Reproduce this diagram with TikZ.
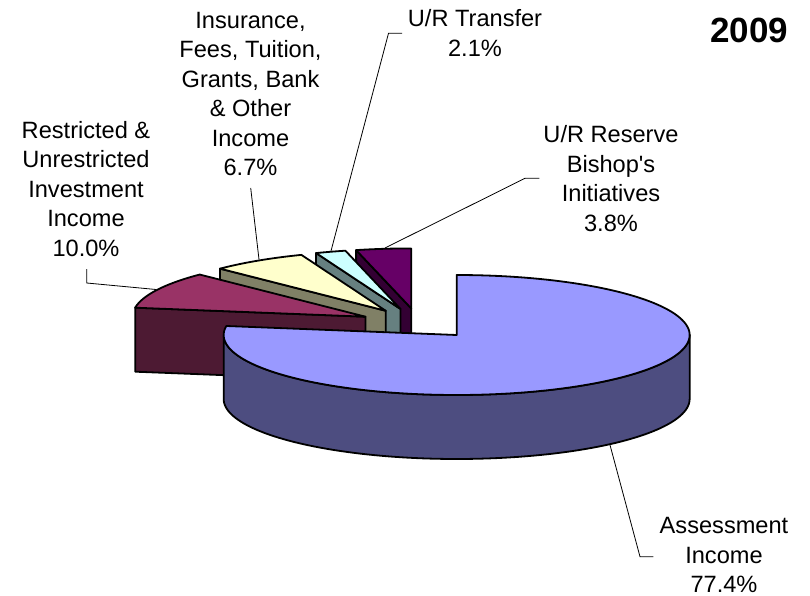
\documentclass[tikz,border=0pt]{standalone}
\usepackage{fontspec}
\setmainfont{Liberation Sans}
\definecolor{asstop}{HTML}{9999FF}
\definecolor{assside}{HTML}{4D4D80}
\definecolor{restop}{HTML}{993366}
\definecolor{resside}{HTML}{4D1A33}
\definecolor{instop}{HTML}{FFFFCC}
\definecolor{insside}{HTML}{808066}
\definecolor{trtop}{HTML}{CCFFFF}
\definecolor{trside}{HTML}{668080}
\definecolor{rvtop}{HTML}{660066}
\definecolor{rvside}{HTML}{330033}
\newcommand{\smallpieslice}[6]{%
  \filldraw[piefill=#6] (#1,#2) -- ({#1+233*cos(#4)},{#2-60*sin(#4)}) -- ({#1+233*cos(#4)},{#2-60*sin(#4)+64}) -- ({#1},{#2+64}) -- cycle;
  \filldraw[piefill=#5] (#1,#2) -- plot[domain=#3:#4,samples=50] ({#1+233*cos(\x)},{#2-60*sin(\x)}) -- cycle;
}
\begin{document}
\begin{tikzpicture}[x=1pt,y=-1pt,
  piefill/.style={fill=#1,draw=black,line width=1.8pt,line join=round},
  lbl/.style={align=center,inner sep=0pt,font=\fontsize{23.6}{29.5}\selectfont},
  leader/.style={draw=black,line width=0.8pt}]
\useasboundingbox (0,0) rectangle (810,596);
% small slices, back to front
\smallpieslice{411.2}{308.4}{90}{103.68}{rvtop}{rvside}
\smallpieslice{400.5}{309.0}{103.68}{111.24}{trtop}{trside}
\smallpieslice{385.8}{310.8}{111.24}{135.36}{instop}{insside}
\smallpieslice{365.5}{316.7}{135.36}{171.36}{restop}{resside}
% assessment slice
\filldraw[piefill=assside] plot[domain=180:360,samples=100] ({456.65+233*cos(\x)},{335-60*sin(\x)})
  -- plot[domain=360:180,samples=100] ({456.65+233*cos(\x)},{399-60*sin(\x)}) -- cycle;
\filldraw[piefill=asstop] (456.65,335) -- plot[domain=-188.64:90,samples=160] ({456.65+233*cos(\x)},{335-60*sin(\x)}) -- cycle;
% labels
\node[lbl] (ins) at (250.5,94) {Insurance,\\Fees, Tuition,\\Grants, Bank\\\& Other\\Income\\6.7\%};
\node[lbl] (res) at (86,189) {Restricted \&\\Unrestricted\\Investment\\Income\\10.0\%};
\node[lbl] (tr) at (475,33) {U/R Transfer\\2.1\%};
\node[lbl] (rv) at (611,178.5) {U/R Reserve\\Bishop\textquotesingle s\\Initiatives\\3.8\%};
\node[lbl] (ass) at (724,555) {Assessment\\Income\\77.4\%};
\node[font=\fontsize{35}{40}\selectfont\bfseries,inner sep=0pt] (yr) at (749,30) {2009};
% leader coordinates
\coordinate (r1) at (86.7,269); \coordinate (r2) at (86.7,283); \coordinate (r3) at (156,289.5);
\coordinate (i1) at (250.7,188); \coordinate (i2) at (259,259.5);
\coordinate (t1) at (402,33.3); \coordinate (t2) at (388.5,33.3); \coordinate (t3) at (331,251);
\coordinate (v1) at (539.3,178.3); \coordinate (v2) at (525,178.3); \coordinate (v3) at (385,248);
\coordinate (a1) at (653.3,556.7); \coordinate (a2) at (640,556.7); \coordinate (a3) at (610,445);
\draw[leader] (r1) -- (r2) -- (r3);
\draw[leader] (i1) -- (i2);
\draw[leader] (t1) -- (t2) -- (t3);
\draw[leader] (v1) -- (v2) -- (v3);
\draw[leader] (a1) -- (a2) -- (a3);
\end{tikzpicture}
\end{document}
